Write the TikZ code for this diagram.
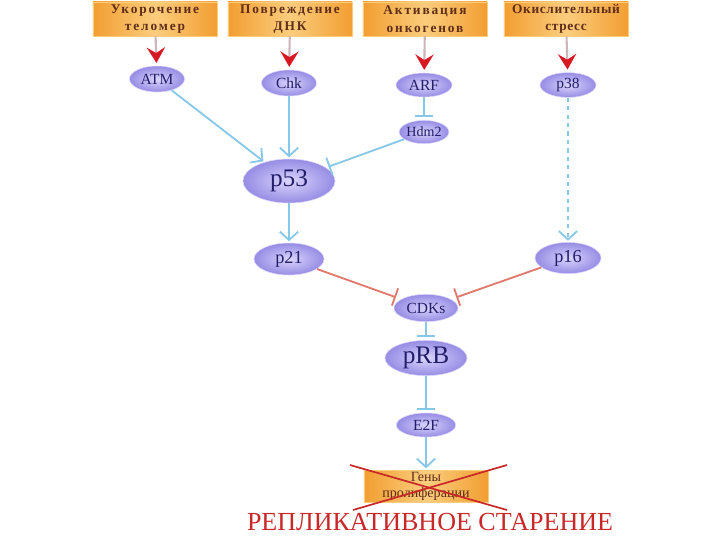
\documentclass[tikz,border=0pt]{standalone}
\usepackage{fontspec}
\setmainfont{Liberation Serif}
\newfontfamily\spacedfont[LetterSpace=14]{Liberation Serif}
\newfontfamily\tightfont[LetterSpace=5]{Liberation Serif}
\usetikzlibrary{shapes,arrows.meta,positioning}
\definecolor{BoxOrange}{RGB}{242,158,50}
\definecolor{BoxLight}{RGB}{251,205,125}
\definecolor{BoxText}{RGB}{95,45,25}
\definecolor{EllInner}{RGB}{218,213,252}
\definecolor{EllOuter}{RGB}{150,140,228}
\definecolor{EllText}{RGB}{35,30,105}
\definecolor{ActBlue}{RGB}{135,200,232}
\definecolor{InhRed}{RGB}{225,120,110}
\definecolor{TrigRed}{RGB}{215,25,35}
\definecolor{ShaftGray}{RGB}{205,180,185}
\definecolor{TitleRed}{RGB}{200,40,40}

\begin{document}
\begin{tikzpicture}[
    x=0.025cm, y=-0.025cm,
    cause/.style={draw=BoxLight, rectangle, minimum width=3.1cm, minimum height=0.85cm, inner sep=1pt, align=center, left color=BoxOrange, right color=BoxOrange, middle color=BoxLight, text=BoxText, font=\spacedfont\bfseries\fontsize{9.5}{12.5}\selectfont},
    prot/.style={draw=EllInner, ellipse, inner sep=0pt, inner color=EllInner, outer color=EllOuter, text=EllText, font=\fontsize{11}{12}\selectfont},
    act/.style={-{Straight Barb[length=6pt,width=13pt]}, draw=ActBlue, line width=1.3pt, shorten >=1pt},
    inh/.style={-{Bar[width=13pt]}, draw=ActBlue, line width=1.3pt, shorten >=2pt},
    redinh/.style={-{Bar[width=13pt]}, draw=InhRed, line width=1.3pt, shorten >=4pt},
    trig/.style={-{Stealth[length=11pt,width=13pt,inset=4pt,color=TrigRed]}, draw=ShaftGray, line width=1.5pt, shorten >=2pt}
  ]
    \fill[white] (0,0) rectangle (720,540);
    \useasboundingbox (0,0) rectangle (720,540);

    % stimuli
    \node[cause] (telomer) at (155,19) {Укорочение\\теломер};
    \node[cause] (dnk) at (290,19) {Повреждение\\ДНК};
    \node[cause] (onko) at (425,19) {Активация\\онкогенов};
    \node[cause, font=\tightfont\bfseries\fontsize{9.5}{12.5}\selectfont] (stress) at (566,19) {Окислительный\\стресс};

    % proteins
    \node[prot, minimum width=1.375cm, minimum height=0.65cm] (atm) at (157,79) {ATM};
    \node[prot, minimum width=1.375cm, minimum height=0.65cm] (chk) at (289,83) {Chk};
    \node[prot, minimum width=1.4cm, minimum height=0.6cm] (arf) at (424,85) {ARF};
    \node[prot, minimum width=1.4cm, minimum height=0.62cm] (p38) at (568,85) {p38};
    \node[prot, minimum width=1.18cm, minimum height=0.58cm, font=\fontsize{10}{11}\selectfont] (hdm2) at (424,132) {Hdm2};
    \node[prot, minimum width=2.3cm, minimum height=1.1cm, font=\fontsize{18}{19}\selectfont] (p53) at (289,181) {p53};
    \node[prot, minimum width=1.75cm, minimum height=0.8cm, font=\fontsize{13}{14}\selectfont] (p21) at (289,259) {p21};
    \node[prot, minimum width=1.65cm, minimum height=0.78cm, font=\fontsize{13}{14}\selectfont] (p16) at (568,258) {p16};
    \node[prot, minimum width=1.6cm, minimum height=0.68cm] (cdks) at (426,308) {CDKs};
    \node[prot, minimum width=2.05cm, minimum height=0.88cm, font=\fontsize{18}{19}\selectfont] (prb) at (426,358) {pRB};
    \node[prot, minimum width=1.48cm, minimum height=0.6cm] (e2f) at (426,425) {E2F};

    % outcome
    \node[cause, minimum height=0.8cm, font=\fontsize{10}{11.5}\selectfont] (genes) at (426,486) {Гены\\пролиферации};
    \node[text=TitleRed, font=\fontsize{18.5}{20}\selectfont] (title) at (430,522) {РЕПЛИКАТИВНОЕ СТАРЕНИЕ};

    \draw[trig] (telomer) -- (atm);
    \draw[trig] (dnk) -- (chk);
    \draw[trig] (onko) -- (arf);
    \draw[trig] (stress) -- (p38);

    \draw[act] (atm) -- (p53);
    \draw[act] (chk) -- (p53);
    \draw[inh] (arf) -- (hdm2);
    \draw[inh] (hdm2) -- (p53);
    \draw[act, dashed] (p38) -- (p16);
    \draw[act] (p53) -- (p21);
    \draw[redinh] (p21) -- (cdks);
    \draw[redinh] (p16) -- (cdks);
    \draw[inh] (cdks) -- (prb);
    \draw[inh] (prb) -- (e2f);
    \draw[act] (e2f) -- (genes);

    % crossed out
    \draw[TitleRed, line width=1.2pt] (350,465) -- (507,510);
    \draw[TitleRed, line width=1.2pt] (353,510) -- (507,465);
  \end{tikzpicture}
\end{document}
